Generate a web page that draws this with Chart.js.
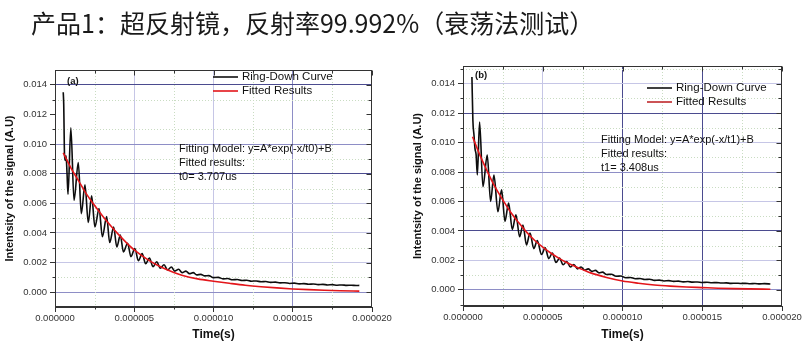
<!DOCTYPE html>
<html>
<head>
<meta charset="utf-8">
<script src="https://cdn.jsdelivr.net/npm/chart.js@4.4.1/dist/chart.umd.min.js"></script>
<style>
  html, body { margin: 0; padding: 0; background: #fff; }
  #page { position: relative; width: 810px; height: 344px; overflow: hidden; background: #fff; }
  #heading { position: absolute; left: 31px; top: 10px; font: 25px/25px "Noto Sans CJK SC", sans-serif; color: #1a1a1a; white-space: nowrap; }
  .panel { position: absolute; top: 0; height: 344px; }
  #panelA { left: 0; width: 400px; }
  #panelB { left: 400px; width: 410px; }
</style>
</head>
<body>
<div id="page">
  <div class="panel" id="panelA"><canvas id="chartA"></canvas></div>
  <div class="panel" id="panelB"><canvas id="chartB"></canvas></div>
  <div id="heading">产品1：超反射镜，反射率99.992%（衰荡法测试）</div>
</div>
<script>
// ---- axis ticks (time in microseconds, labelled in seconds) ----
const timeTicksUs = [0, 5, 10, 15, 20];
const minorTimeUs = [2.5, 7.5, 12.5, 17.5];
const signalTicks = [0, 0.002, 0.004, 0.006, 0.008, 0.010, 0.012, 0.014];
const minorSignal = [-0.001, 0.001, 0.003, 0.005, 0.007, 0.009, 0.011, 0.013, 0.015];

// ---- panel (a): ring-down measurement and exponential fit ----
const ringTimeA = [0.52, 0.55, 0.60, 0.65, 0.70, 0.76, 0.82, 1.00, 1.20, 1.47, 1.66, 1.89, 2.10, 2.31, 2.52, 2.78, 2.99, 3.26, 3.45, 3.70, 3.90, 4.12, 4.32, 4.58, 4.79, 5.04, 5.26, 5.50, 5.72, 5.96, 6.18, 6.42, 6.64, 6.88, 7.10, 7.34, 7.56, 7.80, 8.02, 8.26, 8.48, 8.72, 8.94, 9.20, 9.45, 9.70, 10.0, 10.3, 10.6, 10.9, 11.2, 11.5, 11.8, 12.1, 12.4, 12.7, 13.0, 13.3, 13.6, 13.9, 14.2, 14.5, 14.8, 15.1, 15.4, 15.7, 16.0, 16.3, 16.6, 16.9, 17.2, 17.5, 17.8, 18.1, 18.4, 18.7, 19.0, 19.2];
const ringSignalA = [0.0135, 0.0127, 0.0093, 0.0089, 0.0092, 0.0080, 0.0066, 0.0111, 0.0062, 0.00875, 0.0053, 0.00725, 0.0047, 0.0065, 0.0044, 0.00565, 0.00375, 0.0051, 0.00335, 0.0044, 0.00305, 0.00385, 0.00272, 0.0033, 0.0024, 0.00295, 0.00212, 0.0026, 0.00192, 0.0023, 0.00172, 0.00205, 0.00162, 0.00185, 0.0015, 0.0017, 0.00142, 0.00155, 0.00132, 0.00142, 0.00125, 0.00132, 0.00117, 0.0012, 0.0011, 0.00112, 0.00098, 0.0010, 0.0009, 0.00092, 0.00084, 0.00086, 0.00079, 0.00081, 0.00074, 0.00076, 0.0007, 0.00072, 0.00066, 0.00068, 0.00063, 0.00064, 0.00059, 0.00061, 0.00056, 0.00058, 0.00054, 0.00055, 0.00051, 0.00053, 0.00049, 0.00051, 0.00047, 0.00049, 0.00046, 0.00047, 0.00045, 0.00046];
const fitTimeA = [0.52, 1.0, 1.5, 2.0, 2.5, 3.0, 3.5, 4.0, 4.5, 5.0, 5.5, 6.0, 6.5, 7.0, 7.5, 8.0, 9.0, 10.0, 11.0, 12.0, 13.0, 14.0, 15.0, 16.0, 17.0, 18.0, 19.2];
const fitSignalA = [0.0094, 0.0084, 0.0075, 0.0066, 0.00585, 0.00515, 0.0045, 0.0039, 0.00335, 0.00285, 0.00245, 0.0021, 0.0018, 0.00155, 0.00133, 0.00115, 0.0009, 0.00074, 0.0006, 0.00047, 0.00037, 0.00029, 0.00022, 0.00017, 0.00013, 0.0001, 0.00007];

// ---- panel (b) ----
const ringTimeB = [0.56, 0.62, 0.69, 0.75, 0.82, 0.90, 1.04, 1.25, 1.52, 1.73, 1.94, 2.19, 2.42, 2.63, 2.86, 3.09, 3.32, 3.55, 3.76, 3.98, 4.20, 4.44, 4.66, 4.92, 5.15, 5.38, 5.60, 5.83, 6.05, 6.28, 6.50, 6.73, 6.95, 7.18, 7.40, 7.63, 7.85, 8.08, 8.30, 8.53, 8.75, 9.0, 9.3, 9.6, 9.9, 10.2, 10.5, 10.8, 11.1, 11.4, 11.7, 12.0, 12.3, 12.6, 12.9, 13.2, 13.5, 13.8, 14.1, 14.4, 14.7, 15.0, 15.3, 15.6, 15.9, 16.2, 16.5, 16.8, 17.1, 17.4, 17.7, 18.0, 18.3, 18.6, 18.9, 19.27];
const ringSignalB = [0.01445, 0.0115, 0.0105, 0.0096, 0.0092, 0.0078, 0.0114, 0.0070, 0.00915, 0.0060, 0.0078, 0.0053, 0.0068, 0.00465, 0.0059, 0.0041, 0.0051, 0.0036, 0.0044, 0.00305, 0.00385, 0.0028, 0.00335, 0.0024, 0.00285, 0.00212, 0.0025, 0.00186, 0.00215, 0.0017, 0.00192, 0.00155, 0.00172, 0.00142, 0.00155, 0.00133, 0.00142, 0.00125, 0.00132, 0.00115, 0.0012, 0.00104, 0.00106, 0.00092, 0.00094, 0.00082, 0.00084, 0.00075, 0.00077, 0.0007, 0.00072, 0.00064, 0.00066, 0.0006, 0.00062, 0.00057, 0.00059, 0.00054, 0.00056, 0.00052, 0.00053, 0.0005, 0.00051, 0.00048, 0.00049, 0.00046, 0.00047, 0.00044, 0.00045, 0.00043, 0.00044, 0.00041, 0.00043, 0.0004, 0.00042, 0.00039];
const fitTimeB = [0.6, 1.0, 1.5, 2.0, 2.5, 3.0, 3.5, 4.0, 4.5, 5.0, 5.5, 6.0, 6.5, 7.0, 7.5, 8.0, 9.0, 10.0, 11.0, 12.0, 13.0, 14.0, 15.0, 16.0, 17.0, 18.0, 19.27];
const fitSignalB = [0.0104, 0.0093, 0.0081, 0.0070, 0.0061, 0.00525, 0.00455, 0.0039, 0.00335, 0.0029, 0.0025, 0.00215, 0.00185, 0.0016, 0.00137, 0.00115, 0.00084, 0.0006, 0.00045, 0.00033, 0.00025, 0.00019, 0.00015, 0.00011, 0.00008, 0.00006, 0.00004];

// ---- shared styling ----
const FONT = '"Liberation Sans", Arial, sans-serif';
const GRID = { dark: '#4b4b8f', mid: '#8e8ec6', light: '#c6c6e6', none: 'rgba(0,0,0,0)' };
const MINOR_GRID = '#c9dcc2';

function toPoints(t, v) { return t.map((x, i) => ({ x, y: v[i] })); }

// frame, minor grid, top/right ticks and in-plot annotations
const framePlugin = {
  id: 'frame',
  beforeDatasetsDraw(chart, args, o) {
    const { ctx, chartArea: a, scales: { x, y } } = chart;
    ctx.save();
    ctx.strokeStyle = MINOR_GRID;
    ctx.lineWidth = 1;
    ctx.setLineDash([1, 2]);
    minorTimeUs.forEach(v => {
      const px = Math.round(x.getPixelForValue(v)) + 0.5;
      ctx.beginPath(); ctx.moveTo(px, a.top); ctx.lineTo(px, a.bottom); ctx.stroke();
    });
    minorSignal.forEach(v => {
      if (v <= y.min || v >= y.max) return;
      const py = Math.round(y.getPixelForValue(v)) + 0.5;
      ctx.beginPath(); ctx.moveTo(a.left, py); ctx.lineTo(a.right, py); ctx.stroke();
    });
    ctx.restore();
  },
  afterDraw(chart, args, o) {
    const { ctx, chartArea: a, scales: { x, y } } = chart;
    ctx.save();
    ctx.strokeStyle = '#333';
    ctx.lineWidth = 1;
    ctx.setLineDash([]);
    const L = Math.round(a.left) + 0.5, R = Math.round(a.right) - 0.5;
    const T = Math.round(a.top) + 0.5, B = Math.round(a.bottom) - 0.5;
    ctx.strokeRect(L, T, R - L, B - T);
    const seg = (x1, y1, x2, y2) => { ctx.beginPath(); ctx.moveTo(x1, y1); ctx.lineTo(x2, y2); ctx.stroke(); };
    // top axis (inward) and bottom minor ticks (outward)
    timeTicksUs.forEach(v => { const px = Math.round(x.getPixelForValue(v)) + 0.5; seg(px, T, px, T + 5); });
    minorTimeUs.forEach(v => {
      const px = Math.round(x.getPixelForValue(v)) + 0.5;
      seg(px, T, px, T + 3); seg(px, B, px, B + 3);
    });
    // right axis (inward) and left minor ticks (outward)
    signalTicks.forEach(v => { const py = Math.round(y.getPixelForValue(v)) + 0.5; seg(R, py, R - 5, py); });
    minorSignal.forEach(v => {
      if (v <= y.min || v >= y.max) return;
      const py = Math.round(y.getPixelForValue(v)) + 0.5;
      seg(L, py, L - 3, py); seg(R, py, R - 3, py);
    });

    // panel tag
    ctx.fillStyle = '#111';
    ctx.textBaseline = 'middle';
    ctx.textAlign = 'left';
    ctx.font = 'bold 9.5px ' + FONT;
    ctx.fillText(o.tag, o.tagX, o.tagY);

    // legend
    ctx.font = '11.5px ' + FONT;
    o.legend.forEach((item, i) => {
      const yy = o.legendY + i * o.legendGap;
      ctx.strokeStyle = item.color;
      ctx.lineWidth = 1.6;
      seg(o.legendX, yy, o.legendX + 25, yy);
      ctx.fillStyle = '#111';
      ctx.fillText(item.label, o.legendX + 29, yy);
    });

    // fit summary
    ctx.font = '11px ' + FONT;
    ctx.fillStyle = '#111';
    o.notes.forEach((line, i) => ctx.fillText(line, o.notesX, o.notesY + i * 14));
    ctx.restore();
  }
};

function gridColor(map) {
  return c => GRID[map[c.tick.value.toFixed(3)] || 'none'];
}

function makeChart(id, cfg) {
  return new Chart(document.getElementById(id), {
    type: 'line',
    data: {
      datasets: [
        { label: 'Fitted Results', data: toPoints(cfg.fitT, cfg.fitV), borderColor: '#e3161b', borderWidth: 1.6, pointRadius: 0, cubicInterpolationMode: 'monotone', order: 0 },
        { label: 'Ring-Down Curve', data: toPoints(cfg.ringT, cfg.ringV), borderColor: '#0d0d0d', borderWidth: 1.6, pointRadius: 0, cubicInterpolationMode: 'monotone', order: 1 }
      ]
    },
    options: {
      responsive: true,
      maintainAspectRatio: false,
      animation: false,
      events: [],
      layout: { padding: cfg.padding },
      scales: {
        x: {
          type: 'linear', min: 0, max: 20,
          afterBuildTicks: s => { s.ticks = timeTicksUs.map(v => ({ value: v })); },
          afterFit: s => { s.height = cfg.xHeight; },
          ticks: { font: { family: FONT, size: 9.5 }, color: '#333', padding: 1, maxRotation: 0, callback: v => (v * 1e-6).toFixed(6) },
          grid: { color: gridColor(cfg.xGrid), lineWidth: 1, drawTicks: true, tickLength: 5, tickColor: '#333' },
          border: { display: true, color: '#333', width: 1 },
          title: { display: true, text: 'Time(s)', font: { family: FONT, size: 12, weight: 'bold' }, color: '#111', padding: { top: 0, bottom: 2 } }
        },
        y: {
          type: 'linear', min: cfg.yMin, max: cfg.yMax,
          afterBuildTicks: s => { s.ticks = signalTicks.map(v => ({ value: v })); },
          afterFit: s => { s.width = 55; },
          ticks: { font: { family: FONT, size: 9.5 }, color: '#333', padding: 3, callback: v => v.toFixed(3) },
          grid: { color: gridColor(cfg.yGrid), lineWidth: 1, drawTicks: true, tickLength: 5, tickColor: '#333' },
          border: { display: true, color: '#333', width: 1 },
          title: { display: true, text: 'Intentsity of the signal (A.U)', font: { family: FONT, size: 11, weight: 'bold' }, color: '#111', padding: { top: 3, bottom: 0 } }
        }
      },
      plugins: {
        legend: { display: false },
        tooltip: { enabled: false },
        frame: cfg.frame
      }
    },
    plugins: [framePlugin]
  });
}

makeChart('chartA', {
  ringT: ringTimeA, ringV: ringSignalA, fitT: fitTimeA, fitV: fitSignalA,
  yMin: -0.001, yMax: 0.015, xHeight: 37,
  padding: { top: 70, right: 28, bottom: 0, left: 0 },
  xGrid: { '5.000': 'light', '10.000': 'light', '15.000': 'mid' },
  yGrid: { '0.000': 'mid', '0.002': 'light', '0.004': 'light', '0.006': 'light', '0.008': 'dark', '0.010': 'mid', '0.014': 'dark' },
  frame: {
    tag: '(a)', tagX: 67, tagY: 81,
    legend: [{ label: 'Ring-Down Curve', color: '#111' }, { label: 'Fitted Results', color: '#e3161b' }],
    legendX: 213, legendY: 77, legendGap: 14,
    notes: ['Fitting Model: y=A*exp(-x/t0)+B', 'Fitted results:', 't0= 3.707us'],
    notesX: 179, notesY: 149
  }
});

makeChart('chartB', {
  ringT: ringTimeB, ringV: ringSignalB, fitT: fitTimeB, fitV: fitSignalB,
  yMin: -0.0011, yMax: 0.0152, xHeight: 38,
  padding: { top: 66, right: 28, bottom: 0, left: 8 },
  xGrid: { '5.000': 'light', '10.000': 'dark', '15.000': 'dark' },
  yGrid: { '0.000': 'mid', '0.002': 'light', '0.004': 'dark', '0.006': 'light', '0.008': 'mid', '0.010': 'light', '0.012': 'dark', '0.014': 'light' },
  frame: {
    tag: '(b)', tagX: 75, tagY: 75,
    legend: [{ label: 'Ring-Down Curve', color: '#111' }, { label: 'Fitted Results', color: '#c0282c' }],
    legendX: 247, legendY: 88, legendGap: 14,
    notes: ['Fitting Model: y=A*exp(-x/t1)+B', 'Fitted results:', 't1= 3.408us'],
    notesX: 201, notesY: 140
  }
});
</script>
</body>
</html>
